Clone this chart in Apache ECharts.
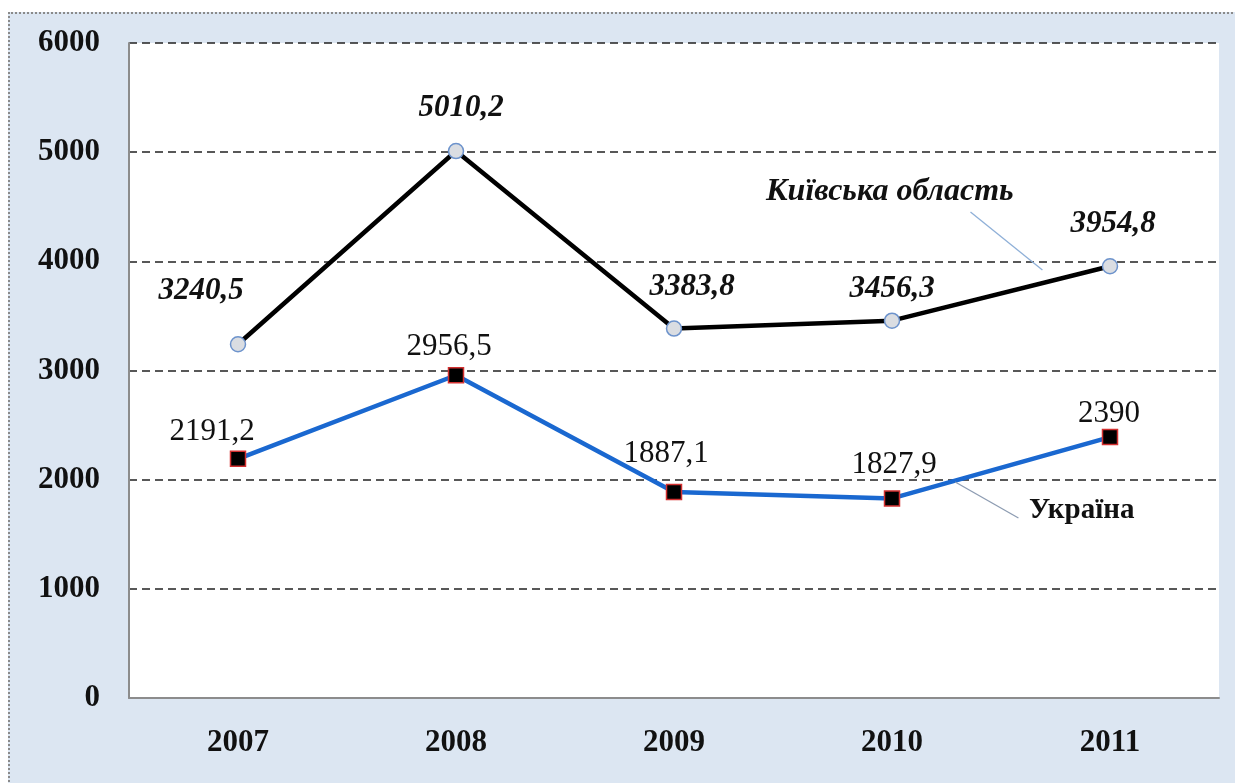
<!DOCTYPE html>
<html>
<head>
<meta charset="utf-8">
<script src="https://cdn.jsdelivr.net/npm/echarts@6/dist/echarts.min.js"></script>
<style>
  html, body { margin: 0; padding: 0; background: #ffffff; }
  #frame {
    position: absolute; left: 8px; top: 12px; width: 1240px; height: 790px;
    background: #dce6f2; border-left: 2px dotted #8a8a8a; border-top: 2px dotted #8a8a8a;
    box-sizing: border-box;
  }
  #chart { position: absolute; left: 0; top: 0; width: 1235px; height: 783px; }
</style>
</head>
<body>
<div id="frame"></div>
<div id="chart"></div>
<script>
// Years on the horizontal axis
const years = ['2007', '2008', '2009', '2010', '2011'];
// Kyiv oblast values
const kyivValues = [3240.5, 5010.2, 3383.8, 3456.3, 3954.8];
// Ukraine values
const ukraineValues = [2191.2, 2956.5, 1887.1, 1827.9, 2390];
// Series names
const kyivName = 'Київська область';
const ukraineName = 'Україна';

// Label offsets from each point (pixels)
const kyivLabelOffsets = [[-37, -53], [5, -43], [18, -42], [0, -32], [3, -42]];
const ukraineLabelOffsets = [[-26, -27], [-7, -28], [-8, -38], [2, -34], [-1, -23]];

// Series name callouts, in axis space: [category index, value]
const callouts = [
  { text: kyivName, textAt: [2.99, 4635], from: [3.36, 4452], to: [3.69, 3920],
    font: 'italic bold 32px "Liberation Serif", serif', stroke: '#8fb0d8' },
  { text: ukraineName, textAt: [3.87, 1713], from: [3.29, 1979], to: [3.58, 1649],
    font: 'bold 29px "Liberation Serif", serif', stroke: '#8d9cb2' }
];

const serif = '"Liberation Serif", "Times New Roman", serif';
const fmt = v => String(v).replace('.', ',');

function withLabels(values, offsets) {
  return values.map((v, i) => ({ value: v, label: { offset: offsets[i] } }));
}

const chart = echarts.init(document.getElementById('chart'));
chart.setOption({
  backgroundColor: 'transparent',
  animation: false,
  grid: {
    left: 129, right: 16, top: 43, bottom: 85,
    show: true, backgroundColor: '#ffffff', borderWidth: 0
  },
  xAxis: {
    type: 'category',
    data: years,
    boundaryGap: true,
    axisLine: { show: true, lineStyle: { color: '#8c8c8c', width: 2 } },
    axisTick: { show: false },
    axisLabel: { color: '#111', fontFamily: serif, fontWeight: 'bold', fontSize: 31, margin: 29 }
  },
  yAxis: {
    type: 'value',
    min: 0, max: 6000, interval: 1000,
    axisLine: { show: true, lineStyle: { color: '#8c8c8c', width: 2 } },
    axisTick: { show: false },
    axisLabel: {
      color: '#111', fontFamily: serif, fontWeight: 'bold', fontSize: 31, margin: 29,
      formatter: v => String(v)
    },
    splitLine: { show: true, lineStyle: { color: '#222', width: 1.6, type: [8, 5] } }
  },
  series: [
    {
      name: kyivName,
      type: 'line',
      data: withLabels(kyivValues, kyivLabelOffsets),
      lineStyle: { color: '#000', width: 4.5 },
      symbol: 'circle', symbolSize: 15,
      itemStyle: { color: '#dadde2', borderColor: '#6d93cc', borderWidth: 1.5 },
      label: {
        show: true, position: 'inside', formatter: p => fmt(p.value),
        color: '#111', fontFamily: serif, fontStyle: 'italic', fontWeight: 'bold', fontSize: 31
      },
      z: 3
    },
    {
      name: ukraineName,
      type: 'line',
      data: withLabels(ukraineValues, ukraineLabelOffsets),
      lineStyle: { color: '#1a68d0', width: 4.5 },
      symbol: 'rect', symbolSize: 15,
      itemStyle: { color: '#000', borderColor: '#d23030', borderWidth: 1.5 },
      label: {
        show: true, position: 'inside', formatter: p => fmt(p.value),
        color: '#111', fontFamily: serif, fontSize: 31
      },
      z: 3
    }
  ]
});

// Place the series name callouts with their leader lines
function toPx(pt) {
  const x0 = chart.convertToPixel({ xAxisIndex: 0 }, years[0]);
  const x1 = chart.convertToPixel({ xAxisIndex: 0 }, years[1]);
  const y = chart.convertToPixel({ yAxisIndex: 0 }, pt[1]);
  return [x0 + (x1 - x0) * pt[0], y];
}
const elements = [];
callouts.forEach(c => {
  const a = toPx(c.from), b = toPx(c.to), t = toPx(c.textAt);
  elements.push({
    type: 'line', shape: { x1: a[0], y1: a[1], x2: b[0], y2: b[1] },
    style: { stroke: c.stroke, lineWidth: 1.3 }, z: 10
  });
  elements.push({
    type: 'text', x: t[0], y: t[1],
    style: { text: c.text, font: c.font, fill: '#111', align: 'center', verticalAlign: 'middle' },
    z: 10
  });
});
chart.setOption({ graphic: elements });
</script>
</body>
</html>
